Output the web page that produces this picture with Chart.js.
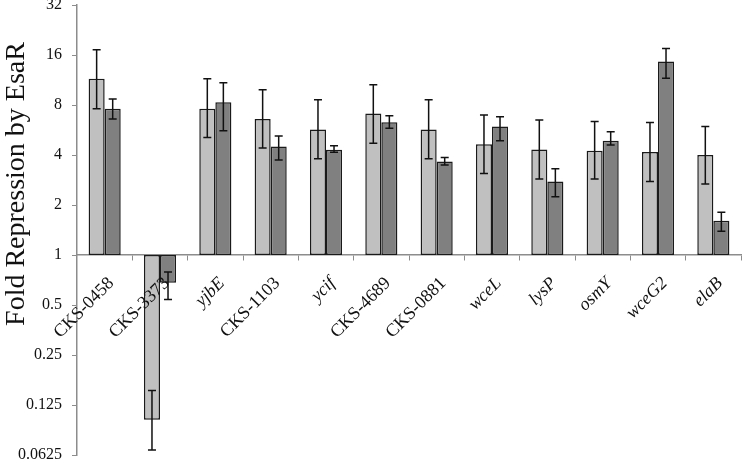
<!DOCTYPE html>
<html>
<head>
<meta charset="utf-8">
<script src="https://cdn.jsdelivr.net/npm/chart.js@4"></script>
<style>
  body { margin: 0; background: #fff; }
</style>
</head>
<body>
<canvas id="foldChart" width="742" height="462"></canvas>
<script>
// categories and values
const categories = ['CKS-0458', 'CKS-3373', 'yjbE', 'CKS-1103', 'ycif', 'CKS-4689', 'CKS-0881', 'wceL', 'lysP', 'osmY', 'wceG2', 'elaB']
const lightValues = [11.5, 0.102, 7.6, 6.6, 5.7, 7.1, 5.7, 4.64, 4.31, 4.25, 4.17, 4.0]
const lightUpper = [17.2, 0.153, 11.5, 9.9, 8.6, 10.6, 8.6, 6.96, 6.5, 6.37, 6.27, 5.93]
const lightLower = [7.6, 0.067, 5.1, 4.4, 3.8, 4.7, 3.8, 3.09, 2.87, 2.87, 2.77, 2.68]
const darkValues = [7.6, 0.68, 8.3, 4.5, 4.3, 6.3, 3.66, 5.93, 2.77, 4.88, 14.6, 1.61]
const darkUpper = [8.7, 0.79, 10.9, 5.2, 4.55, 6.9, 3.87, 6.8, 3.31, 5.53, 17.5, 1.81]
const darkLower = [6.6, 0.54, 5.6, 3.73, 4.15, 5.8, 3.48, 4.88, 2.24, 4.6, 11.6, 1.39]
const yTicks = [0.0625, 0.125, 0.25, 0.5, 1, 2, 4, 8, 16, 32]
const baseValue = 1
const yTitle = 'Fold Repression by EsaR'

const serif = "'Liberation Serif', 'Times New Roman', serif"

// bars start at 1 and go up or down from there
function floating(values) {
    return values.map(v => [baseValue, v])
}

// error bars drawn through the y scale
const errorBars = {
    id: 'errorBars',
    afterDatasetsDraw(chart) {
        const ctx = chart.ctx, y = chart.scales.y
        chart.data.datasets.forEach((ds, d) => {
            const meta = chart.getDatasetMeta(d)
            meta.data.forEach((bar, i) => {
                const top = y.getPixelForValue(ds.upper[i])
                const bottom = y.getPixelForValue(ds.lower[i])
                ctx.save()
                ctx.strokeStyle = '#111'
                ctx.lineWidth = 1.5
                ctx.beginPath()
                ctx.moveTo(bar.x, top)
                ctx.lineTo(bar.x, bottom)
                ctx.moveTo(bar.x - 4, top)
                ctx.lineTo(bar.x + 4, top)
                ctx.moveTo(bar.x - 4, bottom)
                ctx.lineTo(bar.x + 4, bottom)
                ctx.stroke()
                ctx.restore()
            })
        })
    }
}

// slanted category names under the line at 1 (gene names in italics)
const slantedLabels = {
    id: 'slantedLabels',
    afterDraw(chart) {
        const ctx = chart.ctx, x = chart.scales.x, y = chart.scales.y
        const base = y.getPixelForValue(baseValue)
        categories.forEach((name, i) => {
            const style = name.startsWith('CKS') ? '' : 'italic '
            ctx.save()
            ctx.translate(x.getPixelForTick(i) + 10, base + 29)
            ctx.rotate(-Math.PI / 4)
            ctx.font = style + '18px ' + serif
            ctx.fillStyle = '#111'
            ctx.textAlign = 'right'
            ctx.textBaseline = 'alphabetic'
            ctx.fillText(name, 0, 0)
            ctx.restore()
        })
    }
}

// y axis title, sits higher than the centre of the axis
const sideTitle = {
    id: 'sideTitle',
    afterDraw(chart) {
        const ctx = chart.ctx
        ctx.save()
        ctx.translate(24, 184)
        ctx.rotate(-Math.PI / 2)
        ctx.font = '28px ' + serif
        ctx.fillStyle = '#111'
        ctx.textAlign = 'center'
        ctx.textBaseline = 'alphabetic'
        ctx.fillText(yTitle, 0, 0)
        ctx.restore()
    }
}

new Chart(document.getElementById('foldChart'), {
    type: 'bar',
    data: {
        labels: categories,
        datasets: [{
            data: floating(lightValues),
            upper: lightUpper,
            lower: lightLower,
            backgroundColor: '#c0c0c0',
            borderColor: '#1a1a1a',
            borderWidth: 1.5,
            borderSkipped: false
        }, {
            data: floating(darkValues),
            upper: darkUpper,
            lower: darkLower,
            backgroundColor: '#808080',
            borderColor: '#1a1a1a',
            borderWidth: 1.5,
            borderSkipped: false
        }]
    },
    options: {
        responsive: false,
        animation: false,
        devicePixelRatio: 1,
        categoryPercentage: 0.58,
        barPercentage: 1,
        layout: { padding: { top: 5, bottom: 7, left: 0, right: 1 } },
        plugins: {
            legend: { display: false },
            tooltip: { enabled: false }
        },
        scales: {
            x: {
                position: { y: baseValue },
                grid: {
                    drawOnChartArea: false,
                    drawTicks: true,
                    tickLength: 5,
                    color: '#8c8c8c'
                },
                border: { color: '#8c8c8c', width: 1.5 },
                ticks: { display: false },
                afterFit: function (s) {
                    s.paddingLeft = 0
                    s.paddingRight = 0
                }
            },
            y: {
                type: 'logarithmic',
                min: yTicks[0],
                max: yTicks[yTicks.length - 1],
                grid: {
                    drawOnChartArea: false,
                    drawTicks: true,
                    tickLength: 5,
                    color: '#8c8c8c'
                },
                border: { color: '#8c8c8c', width: 1.5 },
                ticks: {
                    padding: 10,
                    color: '#111',
                    font: { family: serif, size: 16 },
                    callback: v => String(v)
                },
                afterBuildTicks: function (s) {
                    s.ticks = yTicks.map(v => ({ value: v }))
                },
                afterFit: function (s) {
                    s.width = 77
                    s.paddingTop = 0
                    s.paddingBottom = 0
                }
            }
        }
    },
    plugins: [errorBars, slantedLabels, sideTitle]
})
</script>
</body>
</html>
